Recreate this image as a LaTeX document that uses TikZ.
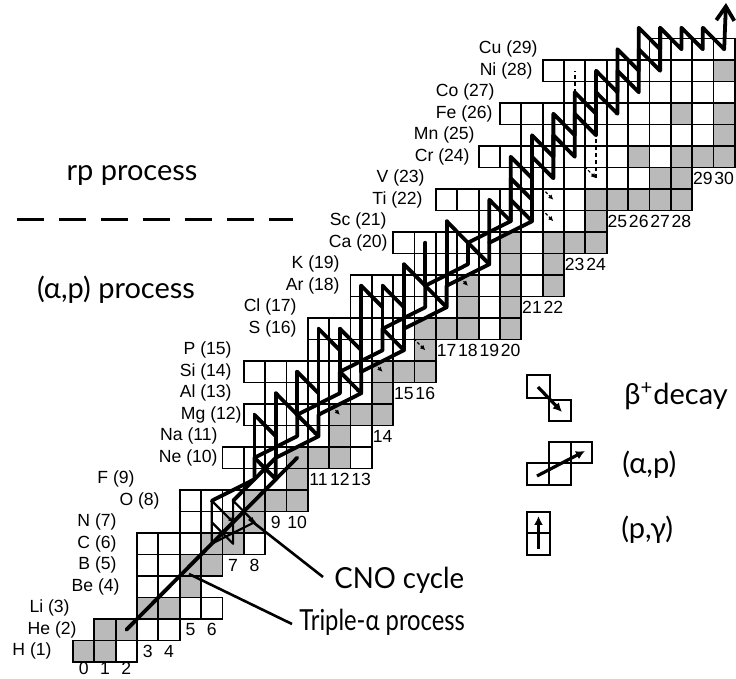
\documentclass[tikz,border=0pt]{standalone}
\usepackage{fontspec}
\setmainfont{Liberation Sans}
\newfontfamily\labelfont{Lato}
\usetikzlibrary{arrows.meta}

\begin{document}
\begin{tikzpicture}[x=0.5pt, y=-0.5pt]
  \tikzset{
    cell_box/.style={draw=black, line width=0.9pt},
    stable_box/.style={fill=black!27, draw=none},
    elem_label/.style={anchor=east, inner sep=0pt, font=\fontsize{8.8}{10}\selectfont},
    n_label/.style={inner sep=0pt, font=\fontsize{8.8}{10}\selectfont},
    big_label/.style={inner sep=0pt, font=\labelfont\fontsize{14.5}{16}\selectfont},
    path_line/.style={line width=1.9pt, line join=round, line cap=round},
    thin_path/.style={line width=1.1pt, line join=round},
    decay_line/.style={line width=0.6pt, dash pattern=on 1.5pt off 1pt, -{Latex[length=2.5pt,width=2.5pt]}},
    pointer/.style={line width=1.3pt},
    legend_arrow/.style={line width=1.6pt, -{Latex[length=4.5pt,width=4.5pt]}}
  }
  \useasboundingbox (0,0) rectangle (736,679);

  % Centros de las celdas (N,Z)
  \foreach \n in {0,...,31}
    \foreach \z in {0,...,31}
      \coordinate (c-\n-\z) at ({73+21.35*(\n+0.5)}, {662-21.5*(\z-0.5)});

  % Núcleos estables (gris)
  \foreach \n/\z in {0/1,1/1, 1/2,2/2, 3/3,4/3, 5/4, 5/5,6/5, 6/6,7/6, 7/7,8/7,
      8/8,9/8,10/8, 10/9, 10/10,11/10,12/10, 12/11, 12/12,13/12,14/12, 14/13,
      14/14,15/14,16/14, 16/15, 16/16,17/16,18/16,20/16, 18/17,20/17,
      18/18,20/18,22/18, 20/19,22/19, 20/20,22/20,23/20,24/20, 24/21,
      24/22,25/22,26/22,27/22,28/22, 27/23,28/23, 26/24,28/24,29/24,30/24,
      30/25, 28/26,30/26, 30/28}
    \fill[stable_box] ({73+21.35*\n},{662-21.5*\z}) rectangle ++(21.35,21.5);

  % Filas de la carta de núcleos
  \foreach \z/\a/\b in {1/0/2, 2/1/4, 3/3/6, 4/3/5, 5/3/6, 6/3/8, 7/5/8, 8/5/10,
      9/8/10, 10/7/13, 11/9/13, 12/8/14, 13/9/14, 14/8/16, 15/11/16, 16/11/20,
      17/13/20, 18/13/22, 19/16/22, 20/15/24, 21/19/24, 22/17/28, 23/21/28,
      24/19/30, 25/21/30, 26/20/30, 27/23/30, 28/22/30, 29/27/30}
    \foreach \n in {\a,...,\b}
      \draw[cell_box] ({73+21.35*\n},{662-21.5*\z}) rectangle ++(21.35,21.5);

  % Etiquetas de los elementos
  \foreach \z/\x/\t in {1/52/H, 2/77/He, 3/70/Li, 4/120/Be, 5/117/B, 6/117/C,
      7/117/N, 8/160/O, 9/135/F, 10/218/Ne, 11/218/Na, 12/242/Mg, 13/232/Al,
      14/232/Si, 15/232/P, 16/297/S, 17/297/Cl, 18/340/Ar, 19/340/K,
      20/388/Ca, 21/387/Sc, 22/423/Ti, 23/425/V, 24/470/Cr, 25/475/Mn,
      26/493/Fe, 27/495/Co, 28/533/Ni, 29/538/Cu}
    \node[elem_label] (el-\z) at (\x, {662-21.5*(\z-0.5)}) {\t\ (\z)};

  % Números de neutrones
  \foreach \n/\z in {3/1,4/1, 5/2,6/2, 7/5,8/5, 9/7,10/7,
      11/9,12/9,13/9, 14/11, 15/13,16/13, 17/15,18/15,19/15,20/15,
      21/17,22/17, 23/19,24/19, 25/21,26/21,27/21,28/21, 29/23,30/23}
    \node[n_label] (nl-\n) at (c-\n-\z) {\n};
  \foreach \n in {0,1,2}
    \node[n_label, anchor=north] (nl-\n) at ([yshift=-5.5pt]c-\n-1) {\n};

  % Triple alfa y cadena N=Z
  \draw[path_line] (c-2-2) -- (c-10-10);

  % Ciclo CNO
  \draw[thin_path] (c-6-6) -- (c-6-7) -- (c-7-6) -- (c-7-7) -- (c-7-8) -- (c-8-7) -- (c-6-6);
  \draw[thin_path] (c-6-7) -- (c-6-8) -- (c-7-7);

  % Proceso (alfa,p)
  \draw[path_line] (c-7-8) -- (c-9-10);
  \draw[path_line] (c-6-8) -- (c-8-9) -- (c-8-10) -- (c-10-11) -- (c-10-12) -- (c-12-13)
    -- (c-12-14) -- (c-14-15) -- (c-14-16) -- (c-16-17) -- (c-16-18) -- (c-18-19)
    -- (c-18-20) -- (c-20-21) -- (c-20-22);
  \draw[path_line] (c-8-10) -- (c-9-9) -- (c-9-10) -- (c-11-11) -- (c-11-12) -- (c-13-13)
    -- (c-13-14) -- (c-15-15) -- (c-15-16) -- (c-17-17) -- (c-17-18) -- (c-19-19)
    -- (c-19-20) -- (c-21-21) -- (c-21-22);
  % ramas (p,gamma) y beta+
  \foreach \a/\b in {10-12/11-11, 12-14/13-13, 14-16/15-15, 16-18/17-17,
      18-20/19-19, 20-22/21-21, 9-10/9-13, 9-13/10-12, 11-12/11-16,
      11-16/12-15, 13-14/13-18, 13-18/14-17, 15-16/15-19, 15-19/16-18,
      16-18/16-20, 17-18/17-21, 17-21/18-20, 8-10/8-12, 8-12/9-11,
      10-12/10-14, 10-14/11-13, 12-14/12-16, 12-16/13-15, 14-16/14-18,
      14-18/15-17}
    \draw[path_line] (c-\a) -- (c-\b);

  % Proceso rp
  \draw[path_line] (c-20-22) -- (c-20-24) -- (c-21-23) -- (c-21-25) -- (c-22-24) -- (c-22-26)
    -- (c-23-25) -- (c-23-27) -- (c-24-26) -- (c-24-28) -- (c-25-27) -- (c-25-29)
    -- (c-26-28) -- (c-26-30) -- (c-27-29) -- (c-27-30) -- (c-28-29) -- (c-28-30)
    -- (c-29-29) -- (c-29-30) -- (c-30-29);
  \draw[path_line] (c-20-21) -- (c-20-23) -- (c-21-22) -- (c-21-24) -- (c-22-23) -- (c-22-25)
    -- (c-23-24) -- (c-23-26) -- (c-24-25) -- (c-24-27) -- (c-25-26) -- (c-25-28)
    -- (c-26-27) -- (c-26-29) -- (c-27-28) -- (c-27-30);
  \draw[path_line] (c-19-20) -- (c-19-22) -- (c-20-21);
  \coordinate (path_end) at (726,3);
  \draw[path_line, -{Straight Barb[length=7pt,width=9pt]}] (c-30-29) -- (path_end);

  % Desintegraciones beta+ (discontinuas)
  \foreach \a/\b in {10-12/11-11, 11-13/12-12, 12-14/13-13, 13-15/14-14,
      15-16/16-15, 17-19/18-18, 21-22/22-21, 21-23/22-22, 23-24/24-23,
      22-25/23-24, 6-8/7-7, 7-8/8-7}
    \draw[decay_line, shorten <=7pt] (c-\a) -- (c-\b);
  \draw[line width=0.9pt, dash pattern=on 2pt off 1.5pt] (c-23-25) -- (c-23-28);
  \draw[line width=0.9pt, dash pattern=on 2pt off 1.5pt] (c-24-23) -- (c-24-25);

  % Separación rp / (alfa,p)
  \coordinate (dash_start) at (17,220);
  \coordinate (dash_end) at (293,220);
  \draw[line width=1.5pt, dash pattern=on 13.5pt off 7.5pt] (dash_start) -- (dash_end);
  \node[big_label] (rp_txt) at (132,176) {rp process};
  \node[big_label] (ap_txt) at (116,290) {(α,p) process};

  % Etiquetas CNO y triple alfa
  \node[big_label, anchor=west] (cno_txt) at (334,580) {\scalebox{0.95}[1]{CNO cycle}};
  \node[big_label, anchor=west] (ta_txt) at (299,622) {\scalebox{0.82}[1]{Triple-α process}};
  \coordinate (cno_tip) at (249,519);
  \coordinate (cno_end) at (323,577);
  \coordinate (ta_tip) at (189,574);
  \coordinate (ta_end) at (292,624);
  \draw[pointer] (cno_tip) -- (cno_end);
  \draw[pointer] (ta_tip) -- (ta_end);

  % Leyenda
  \draw[cell_box] (527,375) rectangle (550,398);
  \draw[cell_box] (549,400) rectangle (571,421);
  \coordinate (beta_from) at (538,387);
  \coordinate (beta_to) at (562,412);
  \draw[legend_arrow] (beta_from) -- (beta_to);
  \node[big_label, anchor=west] (beta_txt) at (624,396) {β\textsuperscript{+}decay};

  \draw[cell_box] (527,463) rectangle (549,485);
  \draw[cell_box] (549,463) rectangle (571,485);
  \draw[cell_box] (549,442) rectangle (571,463);
  \draw[cell_box] (571,442) rectangle (592,463);
  \coordinate (ap_from) at (537,476);
  \coordinate (ap_to) at (585,451);
  \draw[legend_arrow] (ap_from) -- (ap_to);
  \node[big_label, anchor=west] (ap_leg) at (622,465) {(α,p)};

  \draw[cell_box] (527,512) rectangle (550,533);
  \draw[cell_box] (527,533) rectangle (550,555);
  \coordinate (pg_from) at (538.5,549);
  \coordinate (pg_to) at (538.5,516);
  \draw[legend_arrow] (pg_from) -- (pg_to);
  \node[big_label, anchor=west] (pg_leg) at (621,530) {(p,γ)};
\end{tikzpicture}
\end{document}
